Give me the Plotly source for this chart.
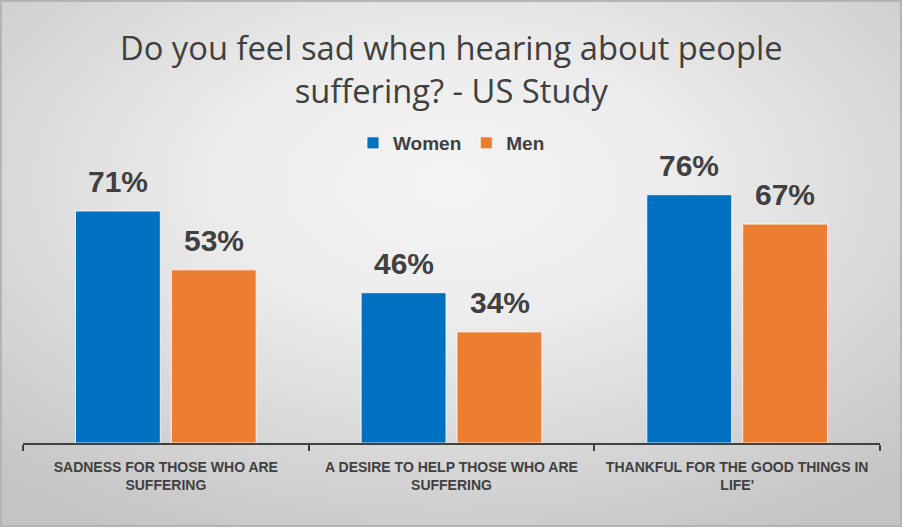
import base64
import plotly.graph_objects as go

categories = ["SADNESS FOR THOSE WHO ARE<br>SUFFERING",
              "A DESIRE TO HELP THOSE WHO ARE<br>SUFFERING",
              "THANKFUL FOR THE GOOD THINGS IN<br>LIFE'"]
women = [71, 46, 76]
men = [53, 34, 67]
series_names = ["Women", "Men"]
series_colors = ["#0070C0", "#ED7D31"]
title_text = "Do you feel sad when hearing about people<br>suffering? - US Study"

W, H = 902, 527
L, R, T, B = 23, 22, 150, 84
pw, ph = W - L - R, H - T - B
ymax = ph / 3.267

svg = f'''<svg xmlns="http://www.w3.org/2000/svg" width="{W}" height="{H}">
<defs><radialGradient id="g" cx="0.5" cy="0.35" r="0.75" gradientUnits="objectBoundingBox">
<stop offset="0" stop-color="#f4f4f4"/><stop offset="0.35" stop-color="#ececec"/>
<stop offset="1" stop-color="#c4c4c4"/></radialGradient></defs>
<rect x="0" y="0" width="{W}" height="{H}" fill="url(#g)"/>
<rect x="1" y="1" width="{W-2}" height="{H-2}" fill="none" stroke="#b4b4b4" stroke-width="2"/>
</svg>'''
src = "data:image/svg+xml;base64," + base64.b64encode(svg.encode()).decode()

fig = go.Figure()
for name, vals, col in zip(series_names, [women, men], series_colors):
    fig.add_trace(go.Bar(x=categories, y=vals, name="<b>" + name + "</b>", marker_color=col,
                         marker_line=dict(color="rgba(255,255,255,0.8)", width=1),
                         hoverinfo="skip"))

annots = []
for vals, shift in zip([women, men], [-48, 48]):
    for c, v in zip(categories, vals):
        annots.append(dict(x=c, y=v, xref="x", yref="y", text=f"<b>{v}%</b>", showarrow=False,
                           xshift=shift, yshift=11, yanchor="bottom",
                           font=dict(family="Liberation Sans, Arial", size=30, color="#404040")))
annots.append(dict(x=0.5, xref="paper", y=1 + (T - 23) / ph, yref="paper",
                   text=title_text, showarrow=False, xanchor="center", yanchor="top",
                   font=dict(family="Open Sans", size=32.7, color="#404040")))

fig.update_layout(
    width=W, height=H,
    margin=dict(l=L, r=R, t=T, b=B, autoexpand=False),
    paper_bgcolor="#dcdcdc", plot_bgcolor="rgba(0,0,0,0)",
    barmode="group", bargap=0.329, bargroupgap=0.115,
    legend=dict(orientation="h", x=0.5, xanchor="center", y=1 + (T - 143) / ph, yanchor="middle",
                font=dict(family="Liberation Sans, Arial", size=19, color="#404040"),
                bgcolor="rgba(0,0,0,0)", itemwidth=30, traceorder="normal"),
    annotations=annots,
    images=[dict(source=src, xref="paper", yref="paper", x=-L / pw, y=1 + T / ph,
                 sizex=W / pw, sizey=H / ph, xanchor="left", yanchor="top",
                 sizing="stretch", layer="below")],
    showlegend=True,
)
fig.update_xaxes(showline=True, linecolor="#404040", linewidth=2, ticks="outside",
                 tickson="boundaries", ticklen=6, tickwidth=2, tickcolor="#404040",
                 tickangle=0, ticklabelstandoff=10,
                 tickfont=dict(family="Liberation Sans, Arial", size=14, color="#404040", weight="bold"),
                 showgrid=False)
fig.update_yaxes(range=[0, ymax], visible=False, showgrid=False)

fig.write_html("out.html", config={"displayModeBar": False},
               post_script="document.body.style.margin='0';")
